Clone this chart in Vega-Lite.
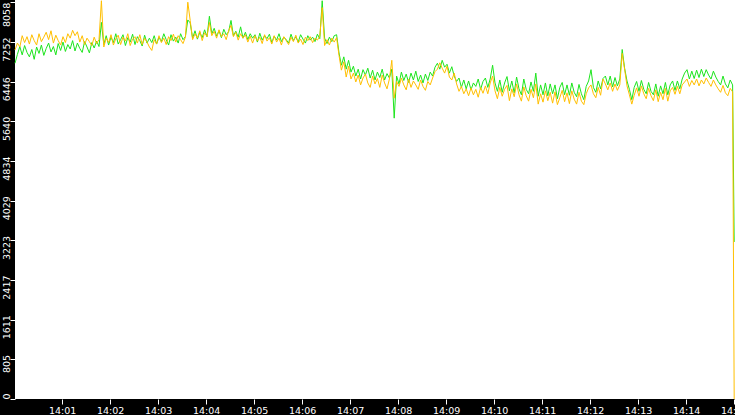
{
  "$schema": "https://vega.github.io/schema/vega-lite/v6.json",
  "width": 720,
  "height": 399,
  "autosize": "none",
  "padding": {"left": 15, "top": 0, "right": 0, "bottom": 16},
  "background": "black",
  "config": {
    "view": {"fill": "white", "stroke": null},
    "axis": {
      "grid": false,
      "domain": false,
      "title": null,
      "tickColor": "white",
      "tickSize": 5,
      "labelColor": "white",
      "labelFont": "DejaVu Sans",
      "labelFontSize": 9.5,
      "labelOverlap": false,
      "labelFlush": false,
      "labelBound": false
    }
  },
  "data": {
    "values": [
      {"t":1,"g":6820,"o":7090},{"t":4,"g":7000,"o":7230},{"t":7,"g":7160,"o":7150},{"t":10,"g":6990,"o":7380},
      {"t":13,"g":7180,"o":7240},{"t":16,"g":7040,"o":7360},{"t":19,"g":6950,"o":7210},{"t":22,"g":7100,"o":7400},
      {"t":25,"g":6900,"o":7280},{"t":28,"g":7150,"o":7190},{"t":31,"g":7020,"o":7420},{"t":34,"g":7190,"o":7260},
      {"t":37,"g":6980,"o":7350},{"t":40,"g":7120,"o":7450},{"t":43,"g":7230,"o":7300},{"t":46,"g":7050,"o":7480},
      {"t":49,"g":7160,"o":7230},{"t":52,"g":6990,"o":7390},{"t":55,"g":7220,"o":7280},{"t":58,"g":7080,"o":7190},
      {"t":61,"g":7250,"o":7360},{"t":64,"g":7060,"o":7240},{"t":67,"g":7200,"o":7420},{"t":70,"g":7110,"o":7330},
      {"t":73,"g":7280,"o":7490},{"t":76,"g":7070,"o":7380},{"t":79,"g":7230,"o":7460},{"t":82,"g":7120,"o":7250},
      {"t":85,"g":7040,"o":7380},{"t":88,"g":7260,"o":7200},{"t":91,"g":7150,"o":7330},{"t":94,"g":7030,"o":7260},
      {"t":97,"g":7240,"o":7180},{"t":100,"g":7130,"o":7350},{"t":103,"g":7270,"o":7220},{"t":106,"g":7160,"o":7300},
      {"t":109,"g":7650,"o":8090},{"t":112,"g":7200,"o":7150},{"t":115,"g":7380,"o":7330},{"t":118,"g":7190,"o":7240},
      {"t":121,"g":7350,"o":7400},{"t":124,"g":7240,"o":7190},{"t":127,"g":7420,"o":7320},{"t":130,"g":7210,"o":7390},
      {"t":133,"g":7300,"o":7200},{"t":136,"g":7400,"o":7350},{"t":139,"g":7180,"o":7270},{"t":142,"g":7340,"o":7420},
      {"t":145,"g":7250,"o":7180},{"t":148,"g":7410,"o":7310},{"t":151,"g":7200,"o":7360},{"t":154,"g":7360,"o":7230},
      {"t":157,"g":7280,"o":7400},{"t":160,"g":7170,"o":7200},{"t":163,"g":7390,"o":7330},{"t":166,"g":7230,"o":7250},
      {"t":169,"g":7330,"o":7150},{"t":172,"g":7240,"o":7080},{"t":175,"g":7380,"o":7300},{"t":178,"g":7210,"o":7210},
      {"t":181,"g":7350,"o":7380},{"t":184,"g":7260,"o":7240},{"t":187,"g":7420,"o":7330},{"t":190,"g":7300,"o":7200},
      {"t":193,"g":7190,"o":7360},{"t":196,"g":7400,"o":7280},{"t":199,"g":7270,"o":7410},{"t":202,"g":7350,"o":7250},
      {"t":205,"g":7230,"o":7380},{"t":208,"g":7420,"o":7300},{"t":211,"g":7300,"o":7220},{"t":214,"g":7360,"o":7350},
      {"t":217,"g":7700,"o":8060},{"t":220,"g":7640,"o":7690},{"t":223,"g":7330,"o":7300},{"t":226,"g":7480,"o":7420},
      {"t":229,"g":7310,"o":7330},{"t":232,"g":7450,"o":7480},{"t":235,"g":7340,"o":7280},{"t":238,"g":7500,"o":7440},
      {"t":241,"g":7360,"o":7360},{"t":244,"g":7775,"o":7650},{"t":247,"g":7420,"o":7380},{"t":250,"g":7530,"o":7470},
      {"t":253,"g":7370,"o":7330},{"t":256,"g":7480,"o":7500},{"t":259,"g":7340,"o":7360},{"t":262,"g":7510,"o":7420},
      {"t":265,"g":7400,"o":7300},{"t":268,"g":7460,"o":7480},{"t":271,"g":7690,"o":7590},{"t":274,"g":7380,"o":7360},
      {"t":277,"g":7470,"o":7450},{"t":280,"g":7350,"o":7290},{"t":283,"g":7560,"o":7420},{"t":286,"g":7330,"o":7330},
      {"t":289,"g":7450,"o":7400},{"t":292,"g":7300,"o":7250},{"t":295,"g":7420,"o":7370},{"t":298,"g":7330,"o":7230},
      {"t":301,"g":7400,"o":7380},{"t":304,"g":7250,"o":7270},{"t":307,"g":7430,"o":7350},{"t":310,"g":7290,"o":7220},
      {"t":313,"g":7380,"o":7400},{"t":316,"g":7320,"o":7270},{"t":319,"g":7410,"o":7340},{"t":322,"g":7240,"o":7210},
      {"t":325,"g":7370,"o":7380},{"t":328,"g":7290,"o":7250},{"t":331,"g":7420,"o":7330},{"t":334,"g":7260,"o":7190},
      {"t":337,"g":7350,"o":7360},{"t":340,"g":7300,"o":7280},{"t":343,"g":7230,"o":7200},{"t":346,"g":7410,"o":7350},
      {"t":349,"g":7280,"o":7260},{"t":352,"g":7360,"o":7390},{"t":355,"g":7250,"o":7230},{"t":358,"g":7400,"o":7310},
      {"t":361,"g":7310,"o":7200},{"t":364,"g":7230,"o":7350},{"t":367,"g":7380,"o":7280},{"t":370,"g":7290,"o":7360},
      {"t":373,"g":7350,"o":7240},{"t":376,"g":7260,"o":7330},{"t":379,"g":7410,"o":7290},{"t":382,"g":7320,"o":7370},
      {"t":385,"g":8090,"o":7950},{"t":388,"g":7330,"o":7180},{"t":391,"g":7220,"o":7300},{"t":394,"g":7350,"o":7190},
      {"t":397,"g":7260,"o":7330},{"t":400,"g":7380,"o":7250},{"t":403,"g":7400,"o":7340},{"t":406,"g":7030,"o":6980},
      {"t":409,"g":6780,"o":6680},{"t":412,"g":6950,"o":6850},{"t":415,"g":6700,"o":6540},{"t":418,"g":6880,"o":6760},
      {"t":421,"g":6640,"o":6500},{"t":424,"g":6760,"o":6620},{"t":427,"g":6560,"o":6440},{"t":430,"g":6700,"o":6580},
      {"t":433,"g":6500,"o":6380},{"t":436,"g":6690,"o":6520},{"t":439,"g":6580,"o":6600},{"t":442,"g":6720,"o":6420},
      {"t":445,"g":6520,"o":6330},{"t":448,"g":6680,"o":6560},{"t":451,"g":6480,"o":6400},{"t":454,"g":6640,"o":6510},
      {"t":457,"g":6530,"o":6330},{"t":460,"g":6700,"o":6580},{"t":463,"g":6480,"o":6420},{"t":466,"g":6610,"o":6300},
      {"t":469,"g":6520,"o":6500},{"t":472,"g":6700,"o":6880},{"t":475,"g":5705,"o":6110},{"t":478,"g":6560,"o":6450},
      {"t":481,"g":6400,"o":6350},{"t":484,"g":6640,"o":6520},{"t":487,"g":6470,"o":6380},{"t":490,"g":6600,"o":6280},
      {"t":493,"g":6430,"o":6500},{"t":496,"g":6620,"o":6330},{"t":499,"g":6480,"o":6460},{"t":502,"g":6660,"o":6380},
      {"t":505,"g":6450,"o":6290},{"t":508,"g":6580,"o":6480},{"t":511,"g":6420,"o":6350},{"t":514,"g":6600,"o":6270},
      {"t":517,"g":6470,"o":6450},{"t":520,"g":6640,"o":6380},{"t":523,"g":6560,"o":6520},{"t":526,"g":6740,"o":6650},
      {"t":529,"g":6820,"o":6700},{"t":532,"g":6700,"o":6830},{"t":535,"g":6880,"o":6720},{"t":538,"g":6740,"o":6620},
      {"t":541,"g":6800,"o":6760},{"t":544,"g":6620,"o":6540},{"t":547,"g":6750,"o":6480},{"t":550,"g":6560,"o":6620},
      {"t":553,"g":6450,"o":6400},{"t":556,"g":6520,"o":6250},{"t":559,"g":6330,"o":6350},{"t":562,"g":6480,"o":6200},
      {"t":565,"g":6300,"o":6300},{"t":568,"g":6460,"o":6160},{"t":571,"g":6280,"o":6320},{"t":574,"g":6420,"o":6180},
      {"t":577,"g":6350,"o":6290},{"t":580,"g":6500,"o":6130},{"t":583,"g":6290,"o":6330},{"t":586,"g":6450,"o":6210},
      {"t":589,"g":6520,"o":6360},{"t":592,"g":6330,"o":6200},{"t":595,"g":6500,"o":6420},{"t":598,"g":6780,"o":6560},
      {"t":601,"g":6420,"o":6260},{"t":604,"g":6250,"o":6100},{"t":607,"g":6480,"o":6330},{"t":610,"g":6230,"o":6150},
      {"t":613,"g":6420,"o":6290},{"t":616,"g":6550,"o":6370},{"t":619,"g":6260,"o":6060},{"t":622,"g":6460,"o":6300},
      {"t":625,"g":6220,"o":6140},{"t":628,"g":6540,"o":6400},{"t":631,"g":6300,"o":6180},{"t":634,"g":6180,"o":6050},
      {"t":637,"g":6500,"o":6340},{"t":640,"g":6290,"o":6160},{"t":643,"g":6200,"o":6050},{"t":646,"g":6440,"o":6290},
      {"t":649,"g":6250,"o":6120},{"t":652,"g":6620,"o":6400},{"t":655,"g":6150,"o":5990},{"t":658,"g":6380,"o":6200},
      {"t":661,"g":6180,"o":6030},{"t":664,"g":6420,"o":6260},{"t":667,"g":6160,"o":6060},{"t":670,"g":6400,"o":6230},
      {"t":673,"g":6200,"o":6010},{"t":676,"g":6380,"o":6240},{"t":679,"g":6100,"o":5980},{"t":682,"g":6330,"o":6120},
      {"t":685,"g":6430,"o":6270},{"t":688,"g":6180,"o":6040},{"t":691,"g":6380,"o":6220},{"t":694,"g":6170,"o":6000},
      {"t":697,"g":6420,"o":6260},{"t":700,"g":6230,"o":6090},{"t":703,"g":6140,"o":5990},{"t":706,"g":6390,"o":6230},
      {"t":709,"g":6200,"o":6050},{"t":712,"g":6080,"o":5980},{"t":715,"g":6350,"o":6200},{"t":718,"g":6460,"o":6320},
      {"t":721,"g":6690,"o":6380},{"t":724,"g":6330,"o":6200},{"t":727,"g":6230,"o":6120},{"t":730,"g":6460,"o":6330},
      {"t":733,"g":6300,"o":6170},{"t":736,"g":6510,"o":6500},{"t":739,"g":6560,"o":6400},{"t":742,"g":6380,"o":6280},
      {"t":745,"g":6560,"o":6420},{"t":748,"g":6340,"o":6250},{"t":751,"g":6530,"o":6400},{"t":754,"g":6360,"o":6270},
      {"t":757,"g":6500,"o":6380},{"t":760,"g":7100,"o":7020},{"t":763,"g":6720,"o":6700},{"t":766,"g":6460,"o":6360},
      {"t":769,"g":6290,"o":6180},{"t":772,"g":6080,"o":5990},{"t":775,"g":6330,"o":6170},{"t":778,"g":6450,"o":6320},
      {"t":781,"g":6250,"o":6150},{"t":784,"g":6470,"o":6360},{"t":787,"g":6290,"o":6200},{"t":790,"g":6200,"o":6100},
      {"t":793,"g":6430,"o":6310},{"t":796,"g":6250,"o":6160},{"t":799,"g":6180,"o":6060},{"t":802,"g":6400,"o":6280},
      {"t":805,"g":6150,"o":6040},{"t":808,"g":6360,"o":6230},{"t":811,"g":6200,"o":6080},{"t":814,"g":6430,"o":6310},
      {"t":817,"g":6180,"o":6050},{"t":820,"g":6380,"o":6260},{"t":823,"g":6460,"o":6330},{"t":826,"g":6270,"o":6190},
      {"t":829,"g":6460,"o":6350},{"t":832,"g":6300,"o":6200},{"t":835,"g":6500,"o":6380},{"t":838,"g":6620,"o":6440},
      {"t":841,"g":6690,"o":6500},{"t":844,"g":6500,"o":6350},{"t":847,"g":6660,"o":6470},{"t":850,"g":6510,"o":6380},
      {"t":853,"g":6680,"o":6500},{"t":856,"g":6530,"o":6360},{"t":859,"g":6700,"o":6480},{"t":862,"g":6550,"o":6400},
      {"t":865,"g":6690,"o":6520},{"t":868,"g":6580,"o":6430},{"t":871,"g":6500,"o":6350},{"t":874,"g":6660,"o":6480},
      {"t":877,"g":6540,"o":6380},{"t":880,"g":6450,"o":6300},{"t":883,"g":6380,"o":6230},{"t":886,"g":6560,"o":6370},
      {"t":889,"g":6400,"o":6220},{"t":892,"g":6320,"o":6160},{"t":895,"g":6480,"o":6310},{"t":898,"g":6380,"o":6240},
      {"t":900,"g":3190,"o":0}
    ]
  },
  "encoding": {
    "x": {
      "field": "t",
      "type": "quantitative",
      "scale": {"domain": [1, 901], "nice": false, "zero": false},
      "axis": {
        "values": [60, 120, 180, 240, 300, 360, 420, 480, 540, 600, 660, 720, 780, 840, 900],
        "labelExpr": "'14:' + (datum.value < 600 ? '0' : '') + (datum.value / 60)",
        "labelPadding": 1
      }
    }
  },
  "layer": [
    {
      "mark": {"type": "line", "color": "#1de51d", "strokeWidth": 1},
      "encoding": {
        "y": {
          "field": "g",
          "type": "quantitative",
          "scale": {"domain": [0, 8105], "nice": false},
          "axis": {
            "values": [0, 805.8, 1611.6, 2417.4, 3223.2, 4029, 4834.8, 5640.6, 6446.4, 7252.2, 8058],
            "labelExpr": "floor(datum.value + 0.01)",
            "labelAngle": 270,
            "labelAlign": {"condition": {"test": "datum.value == 0", "value": "left"}, "value": "right"},
            "labelOffset": {"condition": {"test": "datum.value == 0 || datum.value > 8000", "value": 0}, "value": -5},
            "labelBaseline": "alphabetic",
            "labelPadding": 0.5
          }
        }
      }
    },
    {
      "mark": {"type": "line", "color": "#ffbf00", "strokeWidth": 1},
      "encoding": {
        "y": {
          "field": "o",
          "type": "quantitative",
          "scale": {"domain": [0, 8105], "nice": false},
          "axis": {
            "values": [0, 805.8, 1611.6, 2417.4, 3223.2, 4029, 4834.8, 5640.6, 6446.4, 7252.2, 8058],
            "labelExpr": "floor(datum.value + 0.01)",
            "labelAngle": 270,
            "labelAlign": {"condition": {"test": "datum.value == 0", "value": "left"}, "value": "right"},
            "labelOffset": {"condition": {"test": "datum.value == 0 || datum.value > 8000", "value": 0}, "value": -5},
            "labelBaseline": "alphabetic",
            "labelPadding": 0.5
          }
        }
      }
    }
  ]
}
